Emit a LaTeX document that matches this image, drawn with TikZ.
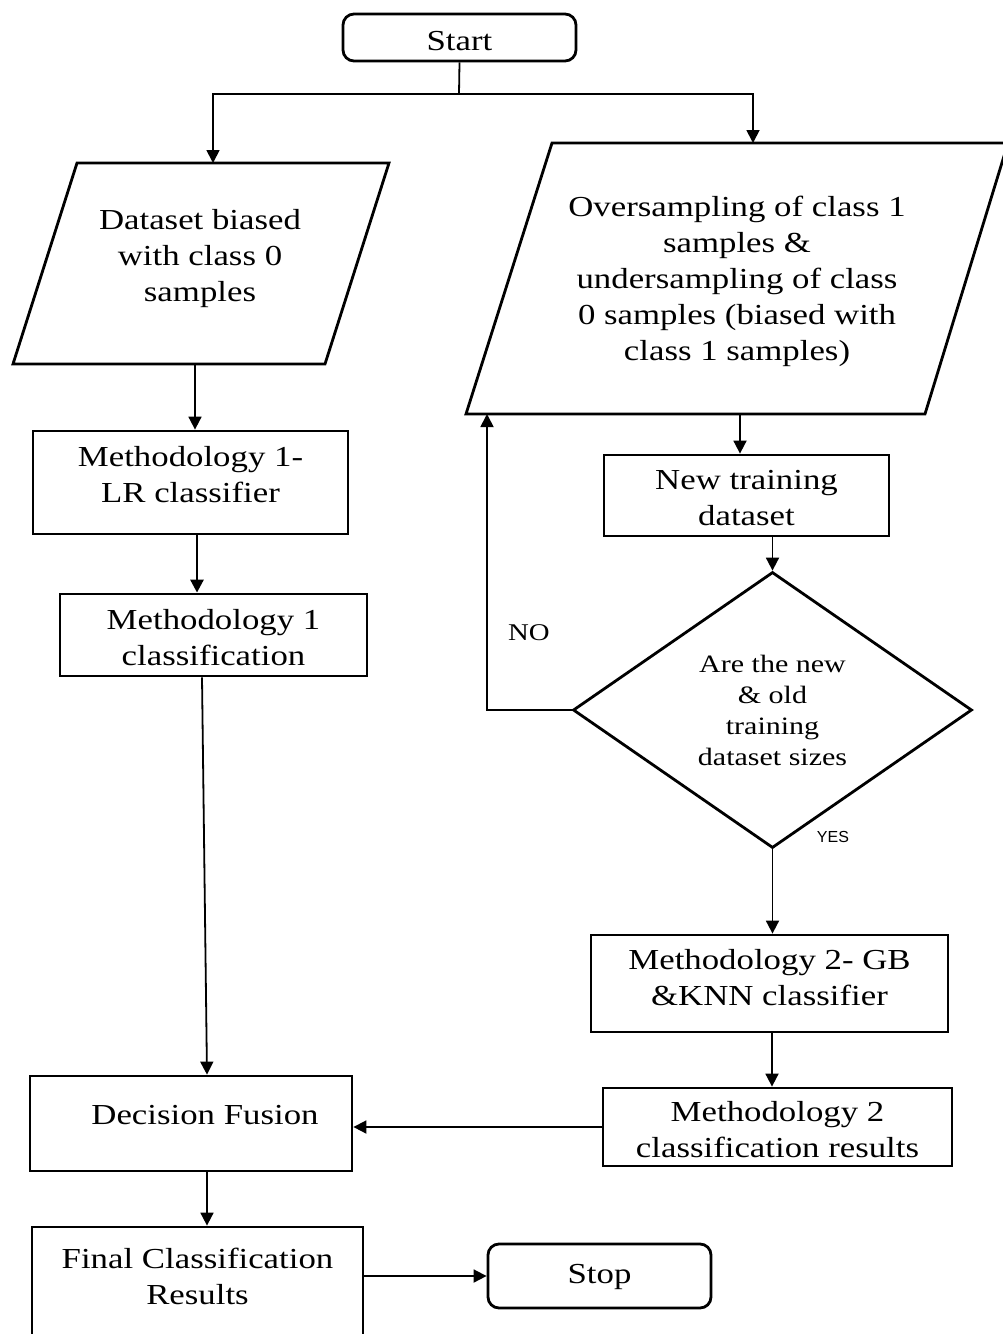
\documentclass[tikz,border=0pt]{standalone}
\usepackage{fontspec}
\setmainfont[FakeStretch=1.2]{Liberation Serif}
\newfontfamily\yesfont{Liberation Sans}
\usetikzlibrary{arrows.meta,shapes.geometric}
\begin{document}
\begin{tikzpicture}[x=1pt,y=-1pt,
  boxst/.style={draw,line width=2.8pt,inner sep=0pt},
  term/.style={boxst,rounded corners=11pt,font=\fontsize{29}{36}\selectfont},
  polyst/.style={line width=2.8pt,line join=miter},
  txt/.style={align=center,inner sep=0pt,font=\fontsize{29}{36}\selectfont},
  dtxt/.style={align=center,inner sep=0pt,font=\fontsize{25}{31}\selectfont},
  conn/.style={line width=1.8pt,-{Triangle[length=13pt,width=13pt]}},
  plain/.style={line width=1.8pt}]

\useasboundingbox (0,0) rectangle (1003,1334);
\clip (0,0) rectangle (1003,1334);

% terminals
\node[term,minimum width=233pt,minimum height=47pt,
  label={[txt,yshift=-4pt]center:Start}] (start) at (459.5,37.5) {};
\node[term,minimum width=223pt,minimum height=64pt,
  label={[txt,yshift=-1pt]center:Stop}] (stop) at (599.5,1276) {};

% left parallelogram
\draw[polyst] (77,163) -- (389,163) -- (325,364) -- (13,364) -- cycle;
\node[txt] (para1) at (200,259) {Dataset biased\\with class 0\\samples};
\coordinate (p1in) at (213,163);
\coordinate (p1out) at (195,364);

% right parallelogram
\draw[polyst] (552,143) -- (1008,143) -- (925,414) -- (466,414) -- cycle;
\node[txt] (para2) at (737,281) {Oversampling of class 1\\samples \&\\undersampling of class\\0 samples (biased with\\class 1 samples)};
\coordinate (p2in) at (753,143);
\coordinate (p2out) at (740,414);
\coordinate (p2loop) at (487,414);

% process boxes
\node[boxst,minimum width=315pt,minimum height=103pt,
  label={[txt,yshift=8pt]center:Methodology 1-\\LR classifier}] (m1) at (190.5,482.5) {};
\node[boxst,minimum width=307pt,minimum height=82pt,
  label={[txt,yshift=-3pt]center:Methodology 1\\classification}] (m1c) at (213.5,635) {};
\node[boxst,minimum width=322pt,minimum height=95pt,
  label={[txt,yshift=8pt,xshift=14pt]center:Decision Fusion}] (fusion) at (191,1123.5) {};
\node[boxst,minimum width=331pt,minimum height=118pt,
  label={[txt,yshift=10pt]center:Final Classification\\Results}] (final) at (197.5,1286) {};

\node[boxst,minimum width=285pt,minimum height=81pt,
  label={[txt,yshift=-3pt]center:New training\\dataset}] (nt) at (746.5,495.5) {};
\node[boxst,diamond,minimum width=399pt,minimum height=276pt,
  label={[dtxt]center:Are the new\\\& old\\training\\dataset sizes}] (dia) at (772.5,710) {};
\node[boxst,minimum width=357pt,minimum height=97pt,
  label={[txt,yshift=6pt]center:Methodology 2- GB\\\&KNN classifier}] (m2) at (769.5,983.5) {};
\node[boxst,minimum width=349pt,minimum height=78pt,
  label={[txt,yshift=-3pt]center:Methodology 2\\classification results}] (m2c) at (777.5,1127) {};

% labels
\node[font=\fontsize{24}{28}\selectfont,inner sep=0pt] (no) at (529,633) {NO};
\node[font=\yesfont\fontsize{16}{18}\selectfont,inner sep=0pt] (yes) at (833,837) {YES};

% connectors
\coordinate (split) at (459,94);
\draw[plain] (start.south) -- (split);
\draw[conn] (split) -| (p1in);
\draw[conn] (split) -| (p2in);

\draw[conn] (p1out) -- (p1out |- m1.north);
\draw[conn,line width=2.8pt] ([xshift=6.5pt]m1.south) -- ([xshift=-16.5pt]m1c.north);
\draw[conn] ([xshift=-11.5pt]m1c.south) -- ([xshift=16pt]fusion.north);
\draw[conn] ([xshift=16pt]fusion.south) -- ([xshift=9.5pt]final.north);
\draw[conn] (stop.west -| final.east) -- (stop.west);

\draw[conn] (p2out) -- (p2out |- nt.north);
\draw[conn] (dia.north |- nt.south) -- (dia.north);
\draw[conn] (dia.west) -| (p2loop);
\draw[conn] (dia.south) -- (dia.south |- m2.north);
\draw[conn] ([xshift=2.5pt]m2.south) -- ([xshift=-5.5pt]m2c.north);
\draw[conn] (m2c.west) -- (m2c.west -| fusion.east);
\end{tikzpicture}
\end{document}
